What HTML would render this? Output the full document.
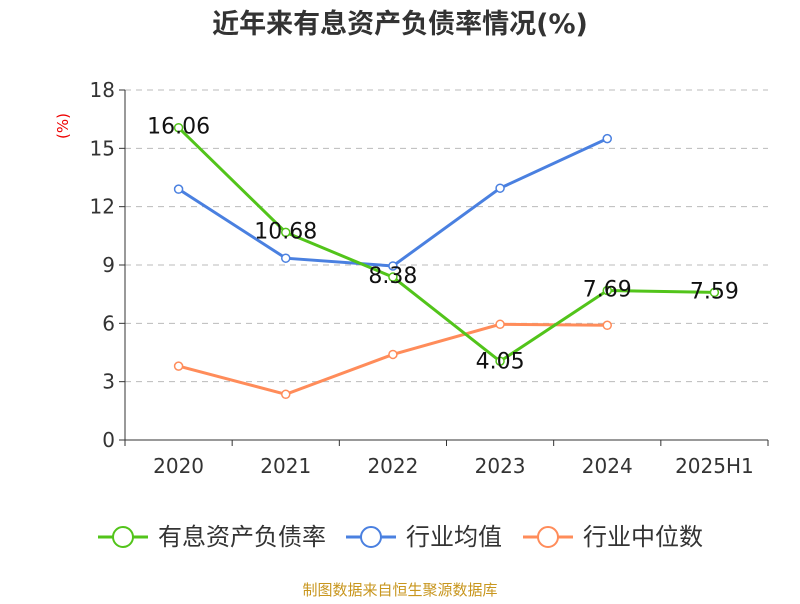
<!DOCTYPE html>
<html><head><meta charset="utf-8"><style>
body{margin:0;background:#fff;width:800px;height:600px;overflow:hidden;font-family:"DejaVu Sans","Noto Sans CJK SC",sans-serif;}
</style></head><body>
<svg id="c" width="800" height="600" xmlns="http://www.w3.org/2000/svg" font-family="DejaVu Sans, Noto Sans CJK SC, sans-serif">
<text x="400" y="33" text-anchor="middle" font-size="27" font-weight="bold" fill="#333">近年来有息资产负债率情况(%)</text>
<text transform="translate(68,126) rotate(-90)" text-anchor="middle" font-size="15" fill="#e00">(%)</text>
<g id="grid"></g><g id="axes"></g><g id="series"></g>
<g>
<g><line x1="98" y1="537" x2="148" y2="537" stroke="#52c41a" stroke-width="3"/><circle cx="123" cy="537" r="10" fill="#fff" stroke="#52c41a" stroke-width="2"/><text x="158" y="545" font-size="24" fill="#333">有息资产负债率</text></g>
<g><line x1="346" y1="537" x2="396" y2="537" stroke="#4a80e0" stroke-width="3"/><circle cx="371" cy="537" r="10" fill="#fff" stroke="#4a80e0" stroke-width="2"/><text x="406" y="545" font-size="24" fill="#333">行业均值</text></g>
<g><line x1="523" y1="537" x2="573" y2="537" stroke="#ff8c5a" stroke-width="3"/><circle cx="548" cy="537" r="10" fill="#fff" stroke="#ff8c5a" stroke-width="2"/><text x="583" y="545" font-size="24" fill="#333">行业中位数</text></g>
</g>
<text x="400" y="595" text-anchor="middle" font-size="15" fill="#c8961e">制图数据来自恒生聚源数据库</text>
</svg>
<script>
const categories=["2020","2021","2022","2023","2024","2025H1"];
const yTicks=[0,3,6,9,12,15,18];
const debtRatio=[16.06,10.68,8.38,4.05,7.69,7.59];
const industryAvg=[12.9,9.35,8.95,12.95,15.5];
const industryMedian=[3.8,2.35,4.4,5.95,5.9];
const NS="http://www.w3.org/2000/svg";
const x0=125,x1=768,y0=440,y1=90,yMax=18;
const band=(x1-x0)/categories.length;
function xs(i){return x0+band*(i+0.5);}
function ys(v){return y0-(v/yMax)*(y0-y1);}
function mk(tag,attrs,parent){const e=document.createElementNS(NS,tag);for(const k in attrs)e.setAttribute(k,attrs[k]);parent.appendChild(e);return e;}
const grid=document.getElementById('grid'),axes=document.getElementById('axes'),ser=document.getElementById('series');
yTicks.forEach(t=>{
 const y=ys(t);
 if(t>0){const g=mk('line',{x1:x0,x2:x1,y1:y,y2:y,stroke:'#bbb','stroke-dasharray':'6,5'},grid);
 
 }
 mk('line',{x1:x0-6,x2:x0,y1:y,y2:y,stroke:'#333'},axes);
 const tx=mk('text',{x:x0-10,y:y+7,'text-anchor':'end','font-size':20,fill:'#333'},axes);tx.textContent=t;
 
 
});
mk('line',{x1:x0,x2:x0,y1:y1,y2:y0,stroke:'#333'},axes);
mk('line',{x1:x0,x2:x1,y1:y0,y2:y0,stroke:'#333'},axes);
for(let i=0;i<=categories.length;i++){mk('line',{x1:x0+band*i,x2:x0+band*i,y1:y0,y2:y0+6,stroke:'#333'},axes);}
categories.forEach((c,i)=>{const t=mk('text',{x:xs(i),y:y0+33,'text-anchor':'middle','font-size':20,fill:'#333'},axes);t.textContent=c;
 
 });
function line(data,color,name,labels){
 const g=mk('g',{},ser);
 
 
 mk('polyline',{points:data.map((v,i)=>xs(i)+','+ys(v)).join(' '),fill:'none',stroke:color,'stroke-width':3},g);
 data.forEach((v,i)=>{const p=mk('circle',{cx:xs(i),cy:ys(v),r:4,fill:'#fff',stroke:color,'stroke-width':1.5},g);
  
  
  if(labels){const t=mk('text',{x:xs(i),y:ys(v)+(i==3?7:6),'text-anchor':'middle','font-size':22,fill:'#111'},g);t.textContent=v.toFixed(2);
   
   }
 });
}
line(industryMedian,'#ff8c5a','industry-median-series',false);
line(industryAvg,'#4a80e0','industry-average-series',false);
line(debtRatio,'#52c41a','debt-ratio-series',true);
</script>
</body></html>
